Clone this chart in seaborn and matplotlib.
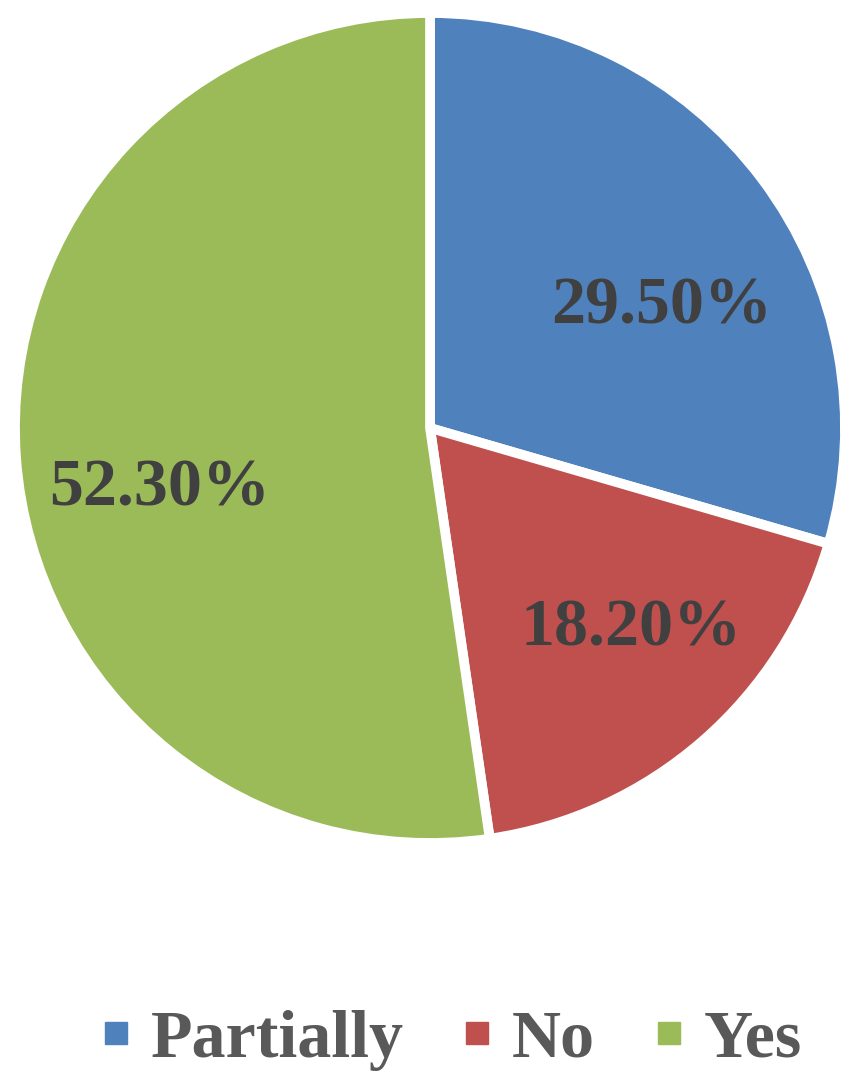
import matplotlib
matplotlib.use("Agg")
import matplotlib.pyplot as plt
import seaborn as sns
from matplotlib.lines import Line2D

# data
categories = ["Partially", "No", "Yes"]
shares = [29.5, 18.2, 52.3]
slice_colors = ["#4F81BD", "#C0504D", "#9BBB59"]

# label anchors (baseline, centred) in pie units
label_xy = [(0.559, 0.253), (0.484, -0.523), (-0.651, -0.186)]

sns.set_theme(style="white")
plt.rcParams["font.family"] = ["Liberation Serif", "DejaVu Serif"]

fig = plt.figure(figsize=(8.51, 10.78), dpi=100)
ax = fig.add_axes([20 / 851, 1 - 838 / 1078, 820 / 851, 820 / 1078])

palette = sns.color_palette(slice_colors)
wedges, texts, autotexts = ax.pie(
    shares,
    colors=palette,
    startangle=90,
    counterclock=False,
    autopct="%.2f%%",
    wedgeprops=dict(edgecolor="white", linewidth=7),
    textprops=dict(fontsize=49, fontweight="bold", color="#404040"),
)
for t, (x, y) in zip(autotexts, label_xy):
    t.set_position((x, y))
    t.set_ha("center")
    t.set_va("baseline")

lim = 0.988
ax.set_xlim(-lim, lim)
ax.set_ylim(-lim, lim)
ax.set_aspect("equal")
ax.axis("off")

handles = [Line2D([], [], linestyle="none", marker="s", markersize=16.5,
                  markerfacecolor=c, markeredgecolor=c) for c in slice_colors]
leg = fig.legend(handles, categories, loc="center",
                 bbox_to_anchor=(450.5 / 851, 1 - 1040 / 1078),
                 ncol=3, frameon=False, handlelength=0.5, handletextpad=0.26,
                 columnspacing=0.83, borderpad=0,
                 prop=dict(family="Liberation Serif", weight="bold", size=49))
for t in leg.get_texts():
    t.set_color("#595959")

fig.savefig("out.png", dpi=100, facecolor="white")
